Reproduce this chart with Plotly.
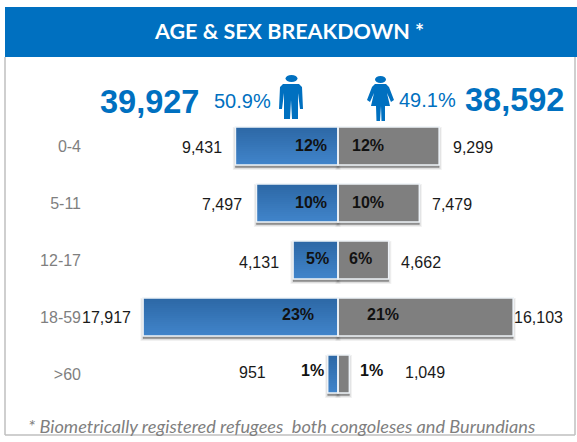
import plotly.graph_objects as go

ages = ["0-4", "5-11", "12-17", "18-59", ">60"]
male = [9431, 7497, 4131, 17917, 951]
female = [9299, 7479, 4662, 16103, 1049]
male_pct = ["12%", "10%", "5%", "23%", "1%"]
female_pct = ["12%", "10%", "6%", "21%", "1%"]
male_total = "39,927"
female_total = "38,592"
male_share = "50.9%"
female_share = "49.1%"
title_text = "AGE & SEX BREAKDOWN *"
footnote = "* Biometrically registered refugees  both congoleses and Burundians"

W, H = 577, 442
CX, PX_PER = 338, 0.01088
ROW0, ROW = 146, 57
BAR_H = 38 / ROW
BLUE = "#0070C0"
FONT = "Liberation Sans, Arial, sans-serif"
LATO = "Lato, sans-serif"

# label nudges (pixels)
m_val_gap = [13, 14, 14, 12, 62]
f_val_gap = [14, 13, 12, 1, 56]
m_pct_dx = [-11, -11, -9, -24, -14]
f_pct_dx = [14, 14, 11, 29, 22]
val_dy = [1, 1, 2, 0, -2]
pct_dy = [-1, -1, -2, -3, -4]

fig = go.Figure()


def blend(a, b, t):
    return "#%02x%02x%02x" % tuple(round(a[i] + (b[i] - a[i]) * t) for i in range(3))


neg_male = [-v for v in male]
# soft shadow
for lw, alpha in [(5, 0.07), (3, 0.10), (1, 0.16)]:
    for vals in (neg_male, female):
        fig.add_trace(go.Bar(y=ages, x=vals, orientation="h", width=BAR_H,
                             offset=-BAR_H / 2 + 2.5 / ROW,
                             marker=dict(color="rgba(60,60,60,0.2)",
                                         line=dict(color=f"rgba(60,60,60,{alpha})", width=lw)),
                             hoverinfo="skip", showlegend=False))
# male bars: top-to-bottom gradient as thin strips
N = 19
top, bot = (0x2D, 0x68, 0xA6), (0x40, 0x84, 0xCA)
for i in range(N):
    fig.add_trace(go.Bar(y=ages, x=neg_male, orientation="h",
                         width=BAR_H / N,
                         offset=-BAR_H / 2 + i * BAR_H / N,
                         marker=dict(color=blend(top, bot, i / (N - 1)), line=dict(width=0)),
                         hoverinfo="skip", showlegend=False))
fig.add_trace(go.Bar(y=ages, x=female, orientation="h", width=BAR_H, offset=-BAR_H / 2,
                     marker=dict(color="#7F7F7F", line=dict(width=0)),
                     hoverinfo="skip", showlegend=False))
# white outlines
for vals in (neg_male, female):
    fig.add_trace(go.Bar(y=ages, x=vals, orientation="h", width=BAR_H, offset=-BAR_H / 2,
                         marker=dict(color="rgba(0,0,0,0)",
                                     line=dict(color="#EEF3F8", width=1.6)),
                         hoverinfo="skip", showlegend=False))

ann = []
for i, a in enumerate(ages):
    ann.append(dict(x=-male[i], y=a, text=f"{male[i]:,}", xanchor="right",
                    xshift=-m_val_gap[i], yshift=-val_dy[i], font=dict(size=16, color="#1a1a1a", family=FONT)))
    ann.append(dict(x=female[i], y=a, text=f"{female[i]:,}", xanchor="left",
                    xshift=f_val_gap[i], yshift=-val_dy[i], font=dict(size=16, color="#1a1a1a", family=FONT)))
    ann.append(dict(x=0, y=a, text=f"<b>{male_pct[i]}</b>", xanchor="right",
                    xshift=m_pct_dx[i], yshift=-pct_dy[i], font=dict(size=16, color="#111111", family=FONT)))
    ann.append(dict(x=0, y=a, text=f"<b>{female_pct[i]}</b>", xanchor="left",
                    xshift=f_pct_dx[i], yshift=-pct_dy[i], font=dict(size=16, color="#111111", family=FONT)))
for a_ in ann:
    a_.update(xref="x", yref="y", showarrow=False, yanchor="middle", borderpad=0, borderwidth=0)


def px_text(x, y, text, size, color, anchor="center", family=FONT):
    ann.append(dict(xref="paper", yref="paper", x=x / W, y=1 - y / H, text=text, showarrow=False,
                    xanchor=anchor, yanchor="middle", font=dict(size=size, color=color, family=family),
                    borderpad=0, borderwidth=0))


px_text(289, 31, f"<b>{title_text}</b>", 21.5, "white", family=LATO)
px_text(100, 102, f"<b>{male_total}</b>", 32.5, BLUE, "left")
px_text(564, 100, f"<b>{female_total}</b>", 32.5, BLUE, "right")
px_text(271, 101, male_share, 20, BLUE, "right")
px_text(456, 100, female_share, 20, BLUE, "right")
px_text(28, 426, f"<i>{footnote}</i>", 18.2, "#7F7F7F", "left", family=LATO)


def P(pts):
    out = []
    for k, (x, y) in enumerate(pts):
        out.append(("M" if k == 0 else "L") + f"{x / W:.5f},{1 - y / H:.5f}")
    return " ".join(out) + " Z"


male_icon = [(283, 84), (299, 84), (302, 87), (303, 110 - 1), (300, 109), (298, 93), (298, 119), (292, 119),
             (291, 100), (290, 119), (284, 119), (284, 93), (282, 109), (279, 109), (280, 87)]
female_icon = [(375, 84), (386, 84), (389, 87), (394, 100), (391, 102), (387, 93), (390, 106), (385, 106),
               (385, 121), (381.5, 121), (381, 106), (380, 121), (376.5, 121), (376, 106), (371, 106),
               (374, 93), (370, 102), (367, 100), (372, 87)]

shapes = [
    dict(type="rect", xref="paper", yref="paper", x0=5 / W, x1=1, y0=1 - 57 / H, y1=1 - 7 / H,
         fillcolor=BLUE, line=dict(width=0), layer="below"),
    dict(type="line", xref="paper", yref="paper", x0=5 / W, x1=5 / W, y0=1 - 435 / H, y1=1 - 57 / H,
         line=dict(color="#BFBFBF", width=1.5), layer="below"),
    dict(type="line", xref="paper", yref="paper", x0=5 / W, x1=575 / W, y0=1 - 435 / H, y1=1 - 435 / H,
         line=dict(color="#BFBFBF", width=1.5), layer="below"),
    dict(type="line", xref="paper", yref="paper", x0=575 / W, x1=575 / W, y0=1 - 435 / H, y1=1 - 57 / H,
         line=dict(color="#BFBFBF", width=1.5), layer="below"),
    dict(type="circle", xref="paper", yref="paper", x0=285.5 / W, x1=297.5 / W, y0=1 - 82 / H, y1=1 - 75 / H,
         fillcolor=BLUE, line=dict(width=0)),
    dict(type="circle", xref="paper", yref="paper", x0=375 / W, x1=386 / W, y0=1 - 83 / H, y1=1 - 76 / H,
         fillcolor=BLUE, line=dict(width=0)),
    dict(type="path", xref="paper", yref="paper", path=P(male_icon), fillcolor=BLUE, line=dict(width=0)),
    dict(type="path", xref="paper", yref="paper", path=P(female_icon), fillcolor=BLUE, line=dict(width=0)),
]

fig.update_layout(
    width=W, height=H, margin=dict(l=0, r=0, t=0, b=0, pad=0), autosize=False,
    paper_bgcolor="white", plot_bgcolor="rgba(0,0,0,0)",
    barmode="overlay", showlegend=False, annotations=ann, shapes=shapes,
    xaxis=dict(range=[-CX / PX_PER, (W - CX) / PX_PER], visible=False, fixedrange=True),
    yaxis=dict(type="category", categoryorder="array", categoryarray=ages, tickmode="array",
               tickvals=ages, ticktext=ages,
               range=[(H - ROW0) / ROW, -ROW0 / ROW], anchor="free", position=81 / W,
               showgrid=False, zeroline=False, showline=False, ticks="", ticklabelposition="outside",
               tickfont=dict(size=16, color="#7F7F7F", family=FONT), fixedrange=True),
)
fig.write_html("out.html", config={"displayModeBar": False},
               post_script="document.documentElement.style.overflow='hidden';document.body.style.margin='0';document.body.style.overflow='hidden';")
